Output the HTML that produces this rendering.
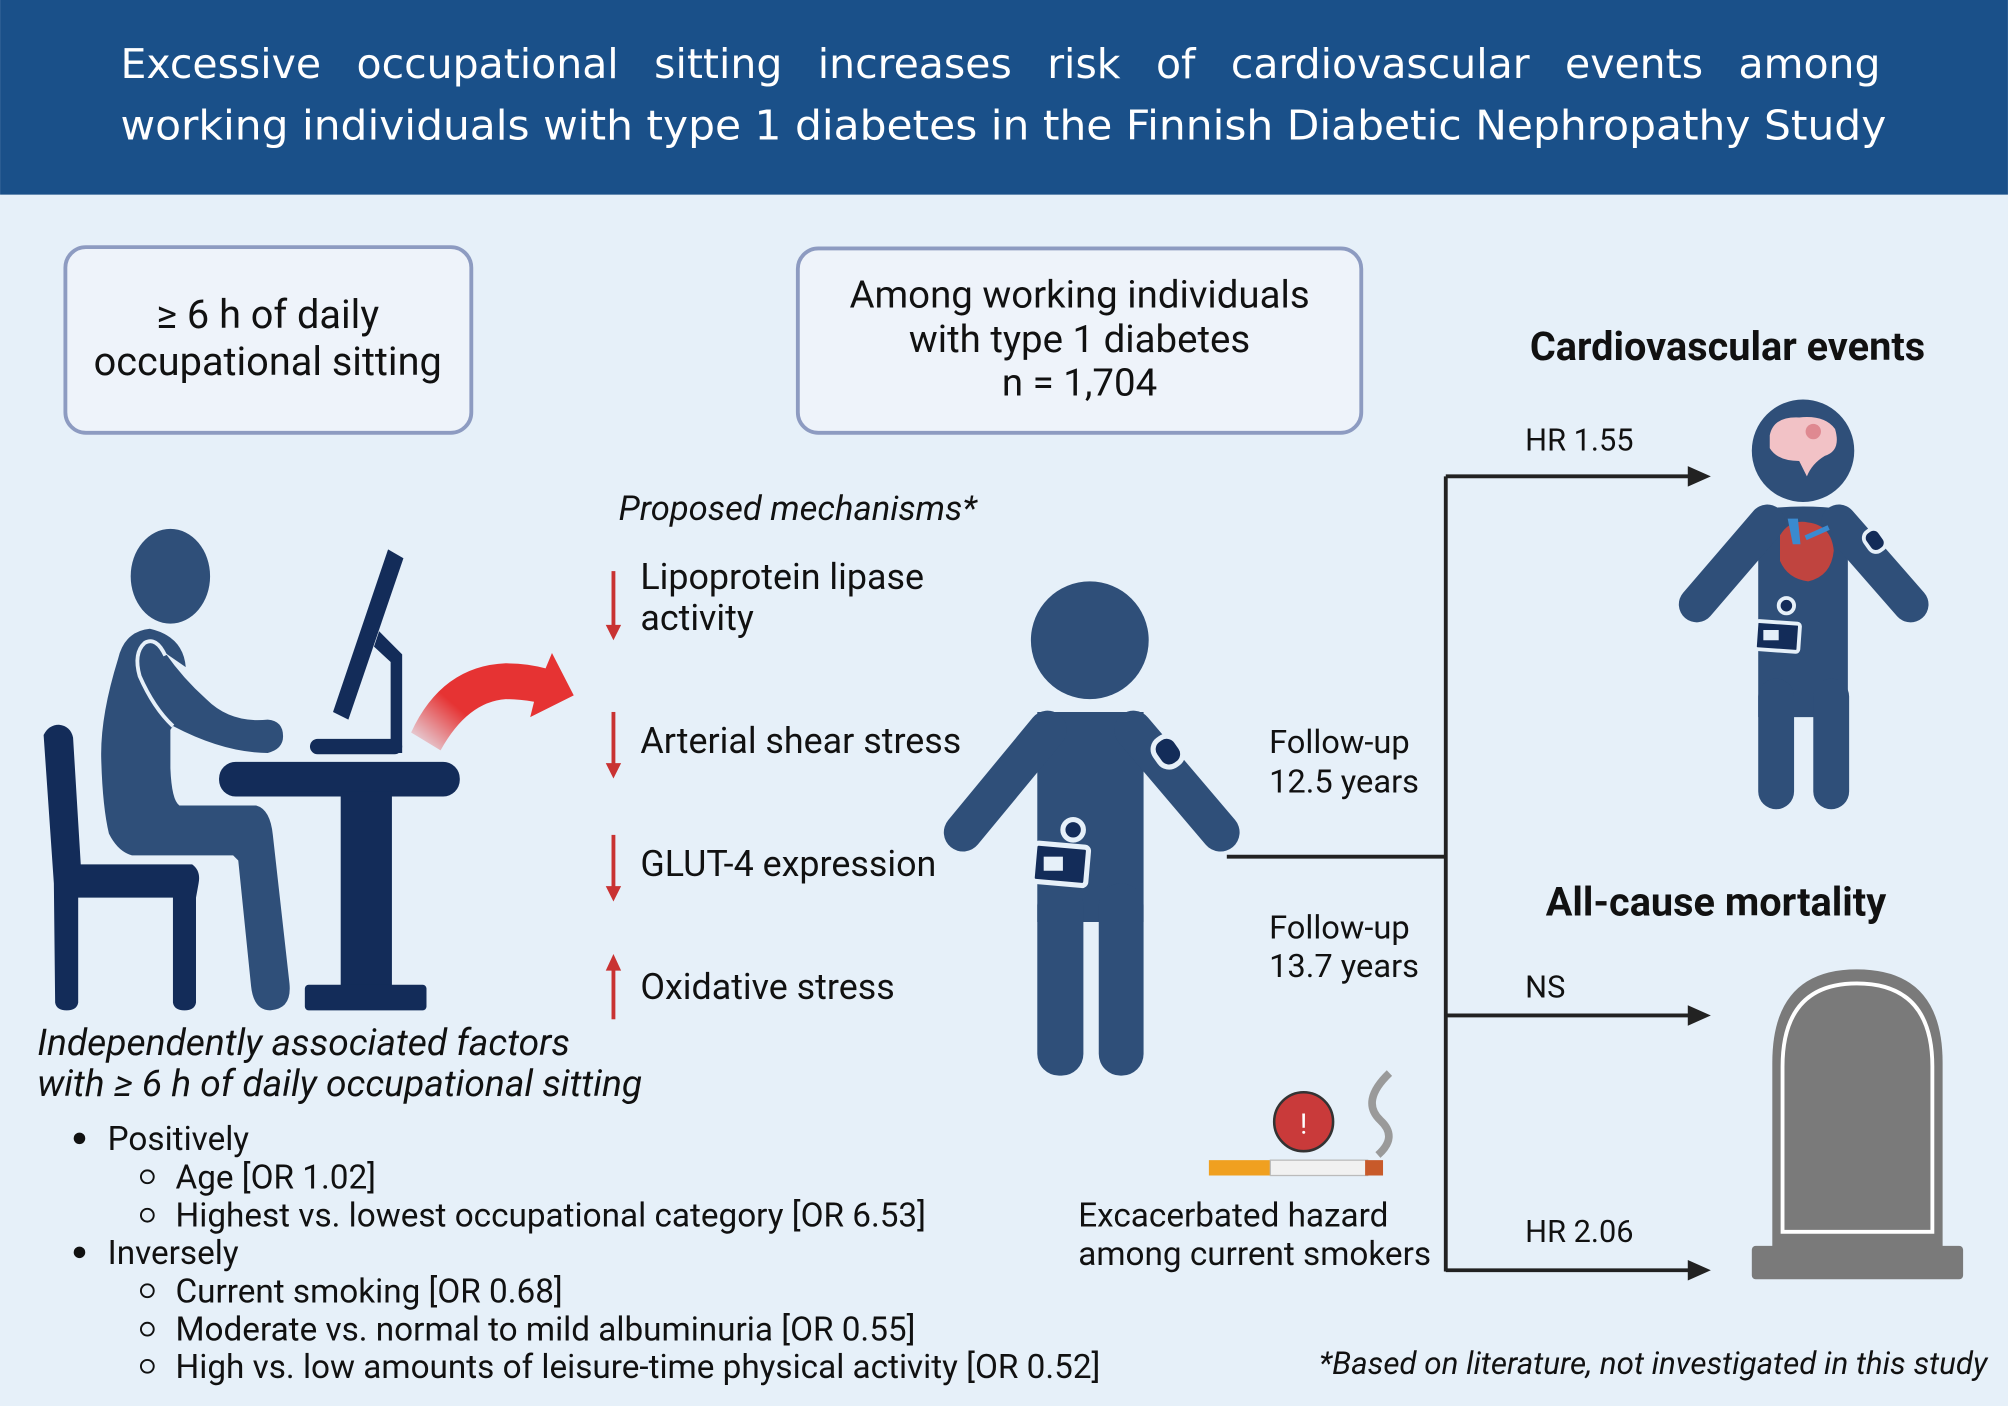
<!DOCTYPE html>
<html><head><meta charset="utf-8"><style>
html,body{margin:0;padding:0;background:#e6f0f9;}
svg{display:block;font-family:"Roboto","Liberation Sans",sans-serif;}
</style></head><body>
<svg width="2008" height="1406" viewBox="0 0 1568 1098" xmlns="http://www.w3.org/2000/svg">
<defs>
<linearGradient id="rg" x1="0" y1="1" x2="1" y2="0.3"><stop offset="0" stop-color="#e63333" stop-opacity="0"/><stop offset="0.4" stop-color="#e63333"/><stop offset="1" stop-color="#e63333"/></linearGradient>
</defs>
<rect width="1568" height="1098" fill="#e6f0f9"/>
<rect width="1568" height="152" fill="#1a5089"/>
<text x="94" y="61" fill="#fff" font-size="32" font-family="DejaVu Sans, sans-serif" word-spacing="17.5">Excessive occupational sitting increases risk of cardiovascular events among</text>
<text x="94" y="109" fill="#fff" font-size="32" font-family="DejaVu Sans, sans-serif" textLength="1379" lengthAdjust="spacingAndGlyphs">working individuals with type 1 diabetes in the Finnish Diabetic Nephropathy Study</text>

<g>
<rect x="51" y="193" width="317" height="145" rx="16" fill="#eef3fa" stroke="#8d9bc1" stroke-width="3"/>
<text x="209" y="256" text-anchor="middle" font-size="31" fill="#111">≥ 6 h of daily</text>
<text x="209" y="293" text-anchor="middle" font-size="31" fill="#111">occupational sitting</text>
</g>
<g>
<rect x="623" y="194" width="440" height="144" rx="16" fill="#eef3fa" stroke="#8d9bc1" stroke-width="3"/>
<text x="843" y="240" text-anchor="middle" font-size="30" fill="#111">Among working individuals</text>
<text x="843" y="275" text-anchor="middle" font-size="30" fill="#111">with type 1 diabetes</text>
<text x="843" y="309" text-anchor="middle" font-size="30" fill="#111">n = 1,704</text>
</g>

<g>
<g fill="#132c59">
<path d="M34,574 Q38,566 46,566 Q55,567 57,576 L63,675 L150,675 Q157,680 155,690 L153,701 L153,783 Q152,789 144,789 Q136,789 135,783 L135,701 L61,701 L61,783 Q60,789 52,789 Q44,789 43,783 L42,690 Z"/>
<path d="M303,429 L315,436 L272,562 L260,556 Z"/>
<path d="M296,493 L314,511 L314,588 L305,588 L305,517 L292,505 Z"/>
<rect x="242" y="577" width="72" height="12" rx="6"/>
<rect x="171" y="595" width="188" height="27" rx="13"/>
<rect x="266" y="618" width="40" height="154"/>
<rect x="238" y="769" width="95" height="20" rx="3"/>
</g>
<ellipse cx="133" cy="450" rx="31" ry="37" fill="#2f4f79"/>
<path d="M117,491 Q97,493 92,515 Q78,560 79,593 Q80,630 85,651 Q92,665 103,668 L182,668 L186,672 L196,770 Q198,789 211,789 Q228,788 226,768 L213,652 Q211,632 200,629 L140,629 Q134,625 133,600 L133,570 L135,567 Q175,588 209,588 Q221,585 221,575 Q221,563 209,562 Q180,565 161,546 Q143,530 129,510 L145,521 Q143,497 117,491 Z" fill="#2f4f79"/>
<path d="M129,512 Q122,497 113,502 Q104,510 109,528 Q120,553 135,567" fill="none" stroke="#e6f0f9" stroke-width="3"/>
<path d="M321,572 Q345,520 395,518 Q412,518 426,522 L431,510 L448,543 L414,560 L417,548 Q405,546 395,546 Q365,548 344,586 Z" fill="url(#rg)"/>
</g>

<text x="483" y="406" font-size="27" font-style="italic" fill="#111">Proposed mechanisms*</text>
<g font-size="28" fill="#111">
<g stroke="#c93232" stroke-width="3" fill="#c93232">
<line x1="479" y1="446" x2="479" y2="492"/><path d="M473,488 L485,488 L479,500 Z" stroke="none"/>
<line x1="479" y1="556" x2="479" y2="600"/><path d="M473,596 L485,596 L479,608 Z" stroke="none"/>
<line x1="479" y1="652" x2="479" y2="696"/><path d="M473,692 L485,692 L479,704 Z" stroke="none"/>
<line x1="479" y1="756" x2="479" y2="796"/><path d="M473,758 L485,758 L479,745 Z" stroke="none"/>
</g>
<text x="500" y="460">Lipoprotein lipase</text><text x="500" y="492">activity</text>
<text x="500" y="588">Arterial shear stress</text>
<text x="500" y="684">GLUT-4 expression</text>
<text x="500" y="780">Oxidative stress</text>
</g>

<g fill="#2f4f79">
<circle cx="851" cy="500" r="46"/>
<path d="M810,556 L893,556 L893,720 L810,720 Z"/>
<line x1="818" y1="570" x2="752" y2="650" stroke="#2f4f79" stroke-width="30" stroke-linecap="round"/>
<line x1="885" y1="570" x2="953" y2="650" stroke="#2f4f79" stroke-width="30" stroke-linecap="round"/>
<rect x="810" y="690" width="36" height="150" rx="17"/>
<rect x="858" y="690" width="35" height="150" rx="17"/>
<rect x="902" y="575" width="20" height="24" rx="9" transform="rotate(-35 912 587)" fill="#132c59" stroke="#e6f0f9" stroke-width="4"/>
<rect x="807" y="660" width="42" height="30" rx="3" transform="rotate(5 828 675)" fill="#132c59" stroke="#e6f0f9" stroke-width="4"/>
<rect x="815" y="669" width="15" height="11" fill="#e6f0f9"/>
<circle cx="838" cy="648" r="8" fill="#132c59" stroke="#e6f0f9" stroke-width="4"/>
</g>

<g stroke="#222" stroke-width="3" fill="none">
<line x1="958" y1="669" x2="1129" y2="669"/>
<line x1="1129" y1="372" x2="1129" y2="993"/>
<line x1="1129" y1="372" x2="1320" y2="372"/>
<line x1="1129" y1="793" x2="1320" y2="793"/>
<line x1="1129" y1="992" x2="1320" y2="992"/>
</g>
<g fill="#222">
<path d="M1318,364 L1336,372 L1318,380 Z"/>
<path d="M1318,785 L1336,793 L1318,801 Z"/>
<path d="M1318,984 L1336,992 L1318,1000 Z"/>
</g>
<g font-size="24" fill="#111">
<text x="1191" y="352">HR 1.55</text>
<text x="1191" y="779">NS</text>
<text x="1191" y="970">HR 2.06</text>
<text x="991" y="588" font-size="25.5">Follow-up</text><text x="991" y="619" font-size="25.5">12.5 years</text>
<text x="991" y="733" font-size="25.5">Follow-up</text><text x="991" y="763" font-size="25.5">13.7 years</text>
</g>
<text x="1349" y="281" text-anchor="middle" font-size="31" font-weight="bold" fill="#111">Cardiovascular events</text>
<text x="1340" y="715" text-anchor="middle" font-size="31" font-weight="bold" fill="#111">All-cause mortality</text>

<g fill="#2f4f79">
<circle cx="1408" cy="352" r="40"/>
<path d="M1373,398 Q1408,393 1443,398 L1443,560 L1373,560 Z"/>
<line x1="1380" y1="408" x2="1325" y2="472" stroke="#2f4f79" stroke-width="28" stroke-linecap="round"/>
<line x1="1436" y1="408" x2="1492" y2="472" stroke="#2f4f79" stroke-width="28" stroke-linecap="round"/>
<rect x="1373" y="530" width="28" height="102" rx="14"/>
<rect x="1416" y="530" width="28" height="102" rx="14"/>
<path d="M1382,340 Q1385,325 1405,326 Q1425,324 1433,335 Q1438,352 1425,356 Q1415,362 1411,372 L1405,360 Q1388,360 1382,350 Z" fill="#f2c2c6"/>
<circle cx="1416" cy="337" r="6" fill="#d7707a" opacity="0.7"/>
<path d="M1390,418 Q1398,405 1412,408 Q1430,410 1432,430 Q1430,450 1412,454 Q1396,452 1390,438 Z" fill="#c0443f"/>
<path d="M1396,405 L1400,425 L1406,425 L1404,405 Z" fill="#3a8ad0"/>
<path d="M1410,420 L1428,412" stroke="#3a8ad0" stroke-width="4"/>
<rect x="1457" y="413" width="14" height="18" rx="6" transform="rotate(-35 1464 422)" fill="#132c59" stroke="#e6f0f9" stroke-width="3"/>
<rect x="1371" y="486" width="34" height="22" rx="2" transform="rotate(4 1388 497)" fill="#132c59" stroke="#e6f0f9" stroke-width="3"/>
<rect x="1377" y="492" width="12" height="8" fill="#e6f0f9"/>
<circle cx="1395" cy="473" r="6" fill="#132c59" stroke="#e6f0f9" stroke-width="3"/>
</g>

<g>
<path d="M1384,975 L1384,830 Q1384,757 1450,757 Q1517,757 1517,830 L1517,975 Z" fill="#7a7a7a"/>
<path d="M1392,962 L1392,833 Q1392,768 1450,768 Q1509,768 1509,833 L1509,962 Z" fill="none" stroke="#fff" stroke-width="3"/>
<rect x="1368" y="973" width="165" height="26" rx="3" fill="#7a7a7a"/>
</g>

<g>
<circle cx="1018" cy="876" r="23" fill="#c93a3a" stroke="#333" stroke-width="2"/>
<text x="1018" y="885" text-anchor="middle" font-size="22" fill="#fff">!</text>
<rect x="944" y="906" width="48" height="12" fill="#f0a020"/>
<rect x="992" y="906" width="76" height="12" fill="#f1f1f1" stroke="#bbb" stroke-width="1"/>
<rect x="1066" y="906" width="14" height="12" fill="#c85a2a"/>
<path d="M1085,838 Q1062,860 1078,875 Q1092,888 1076,902" fill="none" stroke="#9a9a9a" stroke-width="6"/>
</g>
<text x="842" y="958" font-size="26" fill="#111">Excacerbated hazard</text>
<text x="842" y="988" font-size="26" fill="#111">among current smokers</text>

<g font-size="29" font-style="italic" fill="#111">
<text x="29" y="824">Independently associated factors</text>
<text x="29" y="856">with ≥ 6 h of daily occupational sitting</text>
</g>
<g font-size="26" fill="#111">
<circle cx="62" cy="889" r="4.5" fill="#111"/><text x="84" y="898">Positively</text>
<circle cx="115" cy="919" r="5" fill="none" stroke="#111" stroke-width="1.5"/><text x="137" y="928">Age [OR 1.02]</text>
<circle cx="115" cy="949" r="5" fill="none" stroke="#111" stroke-width="1.5"/><text x="137" y="958">Highest vs. lowest occupational category [OR 6.53]</text>
<circle cx="62" cy="978" r="4.5" fill="#111"/><text x="84" y="987">Inversely</text>
<circle cx="115" cy="1008" r="5" fill="none" stroke="#111" stroke-width="1.5"/><text x="137" y="1017">Current smoking [OR 0.68]</text>
<circle cx="115" cy="1038" r="5" fill="none" stroke="#111" stroke-width="1.5"/><text x="137" y="1047">Moderate vs. normal to mild albuminuria [OR 0.55]</text>
<circle cx="115" cy="1067" r="5" fill="none" stroke="#111" stroke-width="1.5"/><text x="137" y="1076">High vs. low amounts of leisure-time physical activity [OR 0.52]</text>
</g>
<text x="1552" y="1073" text-anchor="end" font-size="24.5" font-style="italic" fill="#111">*Based on literature, not investigated in this study</text>
</svg>
</body></html>
